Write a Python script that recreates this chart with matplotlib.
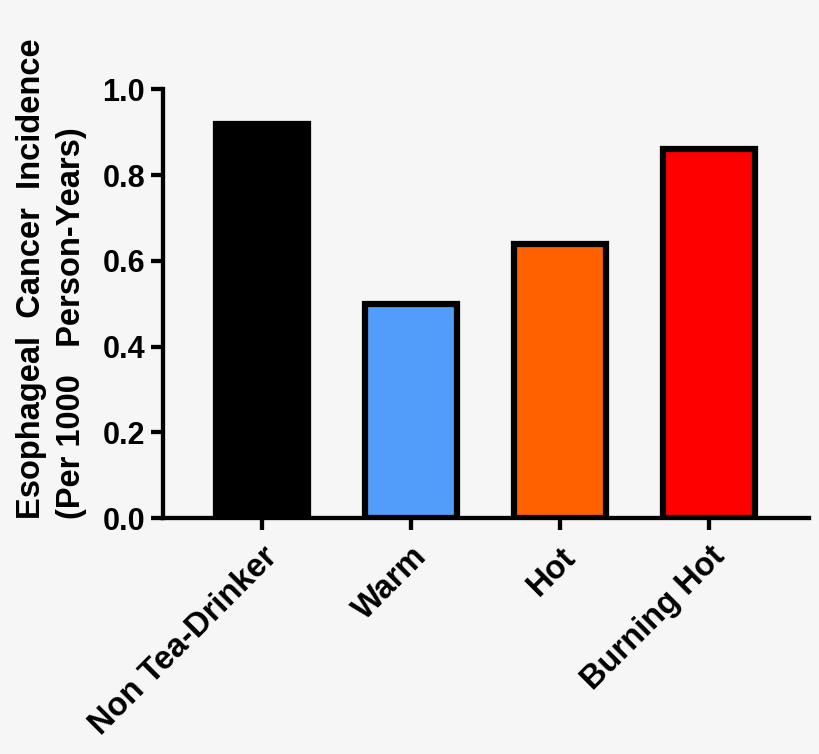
import matplotlib
matplotlib.use("Agg")
import matplotlib.pyplot as plt

categories = ["Non Tea-Drinker", "Warm", "Hot", "Burning Hot"]
values = [0.92, 0.50, 0.64, 0.86]
colors = ["#000000", "#529CFA", "#FF6100", "#FF0000"]
yticks = [0.0, 0.2, 0.4, 0.6, 0.8, 1.0]
ylabel = "Esophageal  Cancer  Incidence\n(Per 1000   Person-Years)"

plt.rcParams["font.family"] = ["Liberation Sans", "DejaVu Sans"]
plt.rcParams["font.weight"] = "bold"

bg = "#F6F6F6"
fig = plt.figure(figsize=(8.2, 7.54), dpi=100, facecolor=bg)
ax = fig.add_axes([0.199, 0.3126, 0.7876, 0.5690])
ax.set_facecolor(bg)

x = list(range(len(categories)))
ax.bar(x, values, width=0.62, color=colors, edgecolor="black", linewidth=4.5, zorder=3)

ax.set_xlim(-0.661, 3.671)
ax.set_ylim(0, 1.0)
ax.set_yticks(yticks)
ax.set_yticklabels([f"{v:.1f}" for v in yticks], fontsize=22, fontweight="bold")
ax.set_xticks(x)
ax.set_xticklabels(categories, fontsize=23.5, fontweight="bold", rotation=45,
                   ha="right", va="top", rotation_mode="anchor")

for s in ["top", "right"]:
    ax.spines[s].set_visible(False)
for s in ["left", "bottom"]:
    ax.spines[s].set_linewidth(3.1)
    ax.spines[s].set_capstyle("projecting")

ax.tick_params(axis="both", width=3.1, length=8.5, color="black")
ax.tick_params(axis="y", pad=4.5)
ax.tick_params(axis="x", pad=8)

ax.set_ylabel(ylabel, fontsize=23.5, fontweight="bold", multialignment="left",
              linespacing=1.37)
ax.yaxis.set_label_coords(-0.1185, 0.559)

fig.savefig("out.png", dpi=100, facecolor=bg)
